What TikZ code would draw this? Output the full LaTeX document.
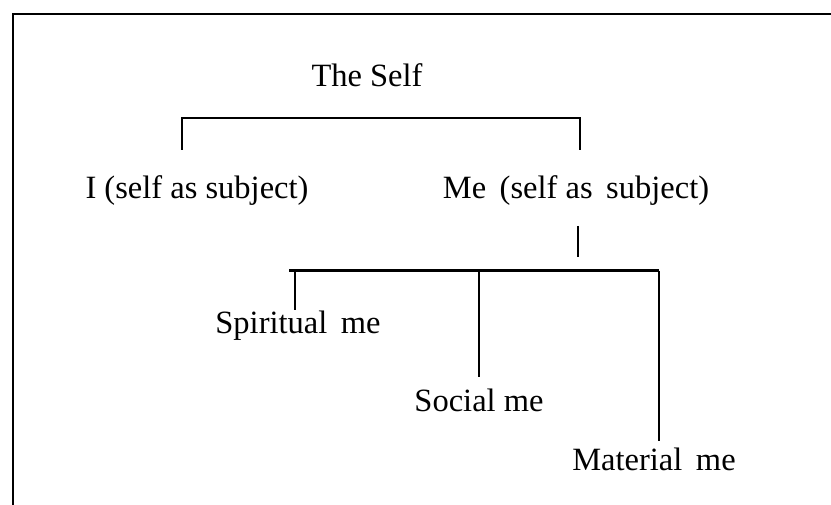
\documentclass[tikz,border=0pt]{standalone}
\usepackage{fontspec}
\setmainfont{Liberation Serif}
\begin{document}
\begin{tikzpicture}[x=1pt,y=-1pt]
\tikzstyle{every node}+=[inner sep=0pt, font=\fontsize{32.5}{38}\selectfont]
\tikzstyle{stem}=[line width=2pt]
\tikzstyle{bar}=[line width=3pt]
\useasboundingbox (0,0) rectangle (831,505);
\draw [line width=2.5pt] (13,505) -- (13,14) -- (831,14);
\node (self) at (367,75) {The Self};
\node (i) at (197,191) {I (self as subject)};
\node (me) at (576,191) {Me\ \,(self as\ \,subject)};
\node (spiritual) at (298,326) {Spiritual\ \,me};
\node (social) at (479,400) {Social\ me};
\node (material) at (654,459) {Material\ \,me};
% upper bracket
\coordinate (barI) at (182,118);
\coordinate (barMe) at (580,118);
\draw [stem] ([yshift=26pt]barI |- i.north) -- (barI) -- (barMe) -- ([yshift=26pt]barMe |- me.north);
% lower bracket
\coordinate (meStub) at (578,226);
\coordinate (barL) at (289,271);
\coordinate (barR) at (659,271);
\draw [stem] (meStub) -- ([yshift=14pt]meStub |- barL);
\draw [bar] (barL) -- (barR);
\draw [stem] (barL -| 295,0) -- ([yshift=1pt]spiritual.north -| 295,0);
\draw [stem] (barL -| social) -- ([yshift=11pt]social.north);
\draw [stem] (barR) -- ([yshift=6pt]barR |- material.north);
\end{tikzpicture}
\end{document}
